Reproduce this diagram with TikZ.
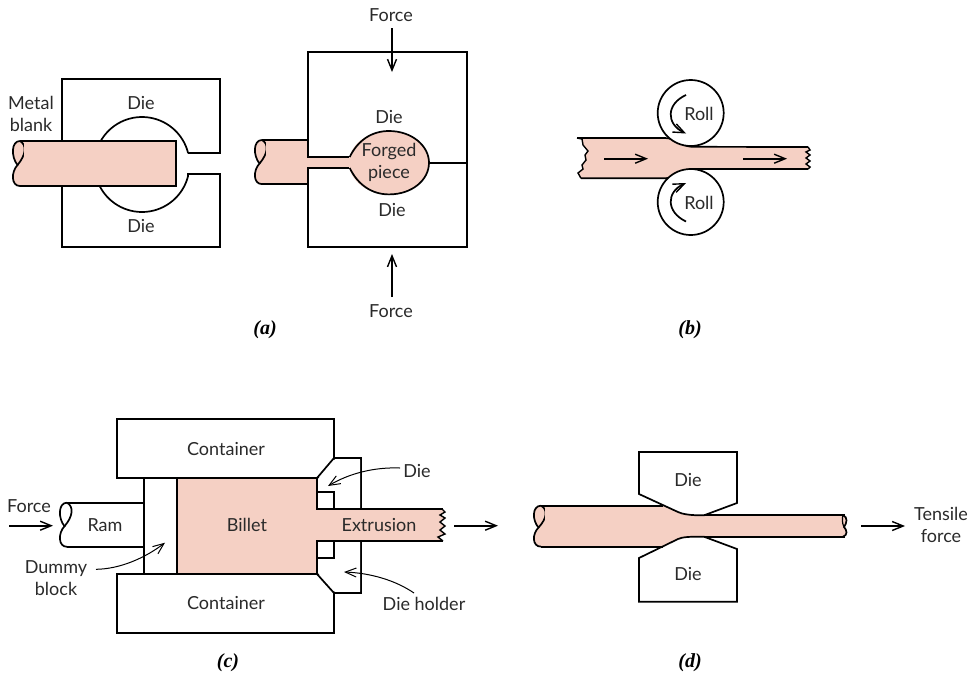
\documentclass[tikz,border=0pt]{standalone}
\usepackage{fontspec}
\setmainfont{Lato}
\newfontfamily\capfont{Liberation Serif}
\usetikzlibrary{arrows.meta}
\definecolor{metal}{HTML}{F5D0C4}
\definecolor{inkc}{HTML}{2A2A2A}
\tikzset{
  outline/.style={draw=black,line width=1.7pt,line join=miter},
  lbl/.style={inner sep=0pt,font=\fontsize{18}{20}\selectfont,text=inkc,align=center},
  caption/.style={inner sep=0pt,font=\capfont\bfseries\itshape\fontsize{20}{22}\selectfont},
  bigarrow/.style={draw=black,line width=1.7pt,-{Straight Barb[length=11pt,width=9pt,line width=1.4pt]}},
  leader/.style={draw=black,line width=1pt,-{Straight Barb[length=11pt,width=9pt,line width=1pt]}},
}
% fill colour, x, top y, height factor: wavy shaft end
\newcommand{\shaftend}[4]{%
  \begin{scope}[shift={(#2,#3)},yscale=#4]
    \fill[#1] (7,0) .. controls (-2,0) and (-2,16) .. (4.5,24) .. controls (-2,31) and (-2,45) .. (7,45) -- (14,45) -- (14,0) -- cycle;
    \draw[line width=1.7pt] (7,0) .. controls (-2,0) and (-2,16) .. (4.5,24) .. controls (-2,31) and (-2,45) .. (7,45);
    \draw[line width=1.7pt] (7,0) .. controls (14,4) and (13,14) .. (4.5,24);
  \end{scope}}
\begin{document}
\begin{tikzpicture}[x=1pt,y=-1pt]
\useasboundingbox[fill=white] (0,0) rectangle (971,673);

% ---------- (a) left
\draw[outline] (62,141) -- (62,79) -- (220,79) -- (220,153) -- (188,153)
  -- plot[domain=-14:-151,samples=40] ({142+47.5*cos(\x)},{164.5+47.5*sin(\x)});
\draw[outline] (62,186) -- (62,247) -- (220,247) -- (220,174) -- (188,174)
  -- plot[domain=14:153,samples=40] ({142+47.5*cos(\x)},{164.5+47.5*sin(\x)});
\shaftend{metal}{13}{141}{1}
\fill[metal] (24,141) rectangle (176,186);
\draw[outline] (20,141) -- (176,141) -- (176,186) -- (20,186);
\node[lbl] (dieA) at (141,103) {Die};
\node[lbl] (dieB) at (141,226) {Die};
\node[lbl] (blank) at (31,114) {Metal\\[2pt]blank};

% ---------- (a) right
\draw[outline] (308,157) -- (308,52) -- (467,52) -- (467,247) -- (308,247) -- (308,168);
\shaftend{metal}{255}{140}{0.98}
\fill[metal] (266,140) rectangle (308,184);
\fill[metal] (305,157) rectangle (352,168);
\draw[outline] (262,140) -- (308,140) -- (308,157) -- (349,157);
\draw[outline] (262,184) -- (308,184) -- (308,168) -- (349,168);
\fill[metal] (389,162.7) ellipse [x radius=40pt,y radius=31.7pt];
\fill[metal] (345,158) rectangle (352,167);
\draw[outline] (349.7,157) .. controls (358,140) and (372,131) .. (389,131)
  .. controls (412,131) and (429,146) .. (429,162.7)
  .. controls (429,180) and (412,194.4) .. (389,194.4)
  .. controls (372,194.4) and (358,185) .. (349.7,168);
\draw[outline] (429,162.7) -- (467,162.7);
\node[lbl] (dieC) at (389,117) {Die};
\node[lbl] (dieD) at (392,210) {Die};
\node[lbl] (forged) at (389,162) {Forged\\[2pt]piece};
\node[lbl] (forceT) at (391,15) {Force};
\node[lbl] (forceB) at (391,311) {Force};
\coordinate (ft) at (392,28);
\coordinate (fta) at (392,72);
\coordinate (fb) at (392,297);
\coordinate (fba) at (392,254);
\draw[bigarrow] (ft) -- (fta);
\draw[bigarrow] (fb) -- (fba);
\node[caption] (capa) at (265,330) {(a)};

% ---------- (b)
\fill[metal] (577,138) -- (665,138) .. controls (675,138) and (682,146.5) .. (692,146.8) -- (808,147)
  -- (810,150) -- (806,152) -- (810,155) -- (806,158) -- (810,161) -- (806,164) -- (810,167) -- (808,169)
  -- (692,169) .. controls (682,169.2) and (675,178) .. (665,178.3) -- (581,178.3)
  -- (578,173) -- (583,169) -- (582,165) -- (586,160) -- (585,155) -- (588,151) -- (583,145) -- (582,139) -- cycle;
\draw[outline] (577,138) -- (665,138) .. controls (675,138) and (682,146.5) .. (692,146.8) -- (808,147);
\draw[outline] (581,178.3) -- (665,178.3) .. controls (675,178) and (682,169.2) .. (692,169) -- (808,169);
\draw[outline,line width=1.4pt] (577,138) -- (582,139) -- (583,145) -- (588,151) -- (585,155) -- (586,160) -- (582,165) -- (583,169) -- (578,173) -- (581,178.3);
\draw[outline,line width=1.4pt] (808,147) -- (810,150) -- (806,152) -- (810,155) -- (806,158) -- (810,161) -- (806,164) -- (810,167) -- (808,169);
\draw[outline,fill=white] (690.7,113) circle [radius=33pt];
\draw[outline,fill=white] (690.7,202) circle [radius=33pt];
\coordinate (ra1) at (686,95);
\coordinate (ra2) at (686,133.5);
\coordinate (rb1) at (686,221.5);
\coordinate (rb2) at (686,183);
\draw[bigarrow] (ra1) .. controls (666,104) and (666,124) .. (ra2);
\draw[bigarrow] (rb1) .. controls (666,212) and (666,192) .. (rb2);
\node[lbl] (rollT) at (699,114) {Roll};
\node[lbl] (rollB) at (699,203) {Roll};
\coordinate (s1) at (604,158.7);
\coordinate (s2) at (648,158.7);
\coordinate (s3) at (743,158.7);
\coordinate (s4) at (787,158.7);
\draw[bigarrow] (s1) -- (s2);
\draw[bigarrow] (s3) -- (s4);
\node[caption] (capb) at (690,330) {(b)};

% ---------- (c)
\fill[metal] (177,478) -- (317,478) -- (317,509) -- (442,509) -- (445,512) -- (440,515) -- (445,518) -- (440,522) -- (445,526) -- (440,530) -- (445,534) -- (438,537) -- (443,541) -- (317,541) -- (317,574) -- (177,574) -- cycle;
\draw[outline] (117,478) rectangle (334,419);
\draw[outline] (117,574) rectangle (334,633);
\draw[outline] (144,478) -- (144,574);
\draw[outline] (177,478) -- (177,574);
\draw[outline] (334,419) -- (334,458) -- (361,458) -- (361,509);
\draw[outline] (334,633) -- (334,593) -- (361,593) -- (361,541);
\fill[white] (317.9,479) -- (333,459.5) -- (360,459.5) -- (360,508) -- (318,508) -- cycle;
\fill[white] (317.9,573) -- (333,591.5) -- (360,591.5) -- (360,542) -- (318,542) -- cycle;
\draw[outline] (317,478) -- (334,458);
\draw[outline] (317,574) -- (334,593);
\draw[outline] (317,478) -- (317,509) -- (443,509);
\draw[outline] (317,574) -- (317,541) -- (443,541);
\draw[outline,line width=1.4pt] (442,509) -- (445,512) -- (440,515) -- (445,518) -- (440,522) -- (445,526) -- (440,530) -- (445,534) -- (438,537) -- (443,541);
\draw[outline] (317,491.7) -- (334,491.7) -- (334,509);
\draw[outline] (317,558) -- (334,558) -- (334,541);
\shaftend{white}{60}{502.7}{0.98}
\draw[outline] (67,502.7) -- (144,502.7);
\draw[outline] (67,546.7) -- (144,546.7);
\node[lbl] (contT) at (226,449) {Container};
\node[lbl] (contB) at (226,603) {Container};
\node[lbl] (ram) at (105,525) {Ram};
\node[lbl] (billet) at (247,525) {Billet};
\node[lbl] (extr) at (379,525) {Extrusion};
\node[lbl] (forceC) at (29,506) {Force};
\node[lbl] (dummy) at (56,578) {Dummy\\[2pt]block};
\node[lbl] (dieE) at (417,471) {Die};
\node[lbl] (holder) at (424,604) {Die holder};
\coordinate (f1) at (9,525.7);
\coordinate (f2) at (53,525.7);
\coordinate (e1) at (454,525.7);
\coordinate (e2) at (498,525.7);
\draw[bigarrow] (f1) -- (f2);
\draw[bigarrow] (e1) -- (e2);
\coordinate (l1) at (96,569.3);
\coordinate (l2) at (165,542.7);
\coordinate (l3) at (400,468);
\coordinate (l4) at (328,486);
\coordinate (l5) at (414,593);
\coordinate (l6) at (344,572);
\draw[leader] (l1) .. controls (120,569) and (145,558) .. (l2);
\draw[leader] (l3) .. controls (375,467) and (350,473) .. (l4);
\draw[leader] (l5) .. controls (395,580) and (370,573) .. (l6);
\node[caption] (capc) at (228,663) {(c)};

% ---------- (d)
\shaftend{metal}{534}{505.7}{0.91}
\fill[metal] (545,505.7) -- (663,505.7) -- (678,512) .. controls (682,514) and (690,515.5) .. (704,515.3) -- (845,515.3)
  .. controls (848,520) and (846,525) .. (844,527) .. controls (847,530) and (847,535) .. (845,536.7)
  -- (704,536.7) .. controls (690,536.5) and (682,537) .. (678,539) -- (663,546.7) -- (545,546.7) -- cycle;
\draw[outline] (541,505.7) -- (663,505.7);
\draw[outline] (704,515.3) -- (845,515.3);
\draw[outline] (541,546.7) -- (663,546.7);
\draw[outline] (704,536.7) -- (845,536.7);
\draw[line width=1.7pt] (843,515.3) .. controls (848,517) and (847,523) .. (844,527) .. controls (847,530) and (848,535) .. (843,536.7);
\draw[line width=1.2pt] (843,515.3) .. controls (842,518) and (842,523) .. (844,527);
\draw[outline] (704,515.3) .. controls (690,515.5) and (682,514) .. (678,512) -- (639,494) -- (639,452) -- (737,452) -- (737,503) -- cycle;
\draw[outline] (704,536.7) .. controls (690,536.5) and (682,537) .. (678,539) -- (639,558) -- (639,601.7) -- (737,601.7) -- (737,549) -- cycle;
\node[lbl] (dieF) at (688,480) {Die};
\node[lbl] (dieG) at (688,574) {Die};
\node[lbl] (tensile) at (941,524.5) {Tensile\\[2pt]force};
\coordinate (t1) at (861,526);
\coordinate (t2) at (905,526);
\draw[bigarrow] (t1) -- (t2);
\node[caption] (capd) at (690,663) {(d)};
\end{tikzpicture}
\end{document}
